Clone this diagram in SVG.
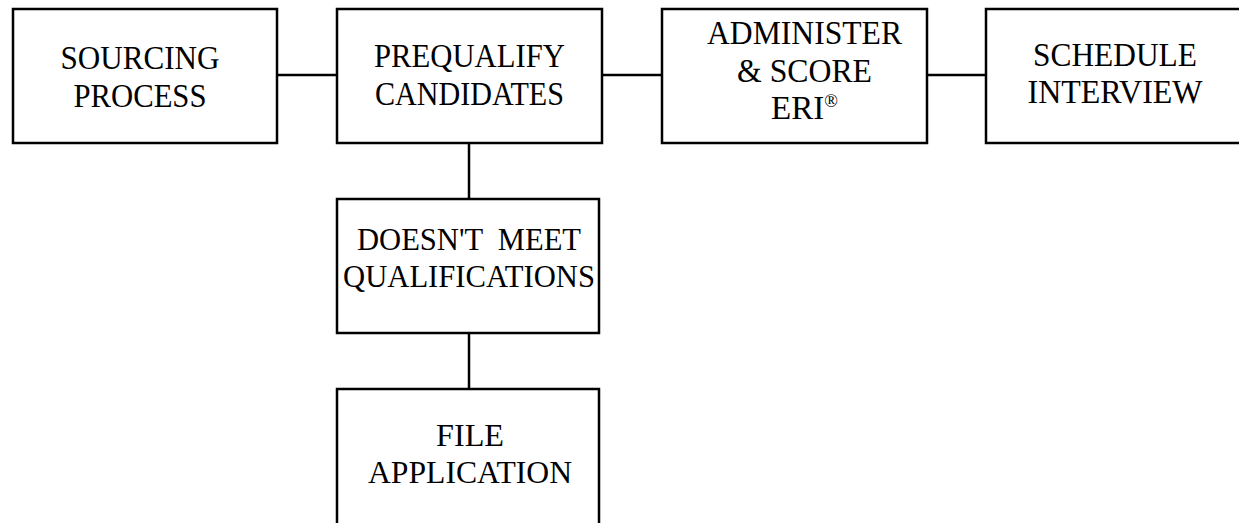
<svg xmlns="http://www.w3.org/2000/svg" width="1239" height="523" viewBox="0 0 1239 523">
<style>
.box{fill:#fff;stroke:#000;stroke-width:2.5}
.c{stroke:#000;stroke-width:2.5;fill:none}
text{font-family:"Liberation Serif","Times New Roman",serif;fill:#000;text-anchor:middle}
.t{font-size:33px}
.b{font-size:31.5px}
</style>
<rect width="1239" height="523" fill="#fff"/>
<g id="connectors">
<line class="c" x1="277" y1="75" x2="337" y2="75"/>
<line class="c" x1="602" y1="75" x2="662" y2="75"/>
<line class="c" x1="927" y1="75" x2="986" y2="75"/>
<line class="c" x1="469" y1="143" x2="469" y2="199"/>
<line class="c" x1="469" y1="333" x2="469" y2="389"/>
</g>
<g id="sourcing">
<rect class="box" x="13" y="9" width="264" height="134"/>
<text class="t" x="140" y="68.5" textLength="159" lengthAdjust="spacingAndGlyphs">SOURCING</text>
<text class="t" x="140" y="107" textLength="133" lengthAdjust="spacingAndGlyphs">PROCESS</text>
</g>
<g id="prequalify">
<rect class="box" x="337" y="9" width="265" height="134"/>
<text class="t" x="469.5" y="66.5" textLength="191" lengthAdjust="spacingAndGlyphs">PREQUALIFY</text>
<text class="t" x="469.5" y="104.5" textLength="189" lengthAdjust="spacingAndGlyphs">CANDIDATES</text>
</g>
<g id="administer">
<rect class="box" x="662" y="9" width="265" height="134"/>
<text class="t" x="804.5" y="43.5" textLength="195" lengthAdjust="spacingAndGlyphs">ADMINISTER</text>
<text class="t" x="804.5" y="81.5" textLength="135" lengthAdjust="spacingAndGlyphs">&amp; SCORE</text>
<text class="t" x="804.5" y="119">ERI<tspan font-size="18" dy="-12">®</tspan></text>
</g>
<g id="schedule">
<rect class="box" x="986" y="9" width="262" height="134"/>
<text class="t" x="1115" y="66" textLength="164" lengthAdjust="spacingAndGlyphs">SCHEDULE</text>
<text class="t" x="1115" y="103" textLength="175" lengthAdjust="spacingAndGlyphs">INTERVIEW</text>
</g>
<g id="doesnt">
<rect class="box" x="337" y="199" width="262" height="134"/>
<text class="b" x="469" y="250" xml:space="preserve" textLength="224" lengthAdjust="spacingAndGlyphs">DOESN'T  MEET</text>
<text class="b" x="469" y="287" textLength="252" lengthAdjust="spacingAndGlyphs">QUALIFICATIONS</text>
</g>
<g id="file">
<rect class="box" x="337" y="389" width="262" height="150"/>
<text class="b" x="470" y="446" textLength="68" lengthAdjust="spacingAndGlyphs">FILE</text>
<text class="b" x="470" y="483" textLength="204" lengthAdjust="spacingAndGlyphs">APPLICATION</text>
</g>
</svg>
